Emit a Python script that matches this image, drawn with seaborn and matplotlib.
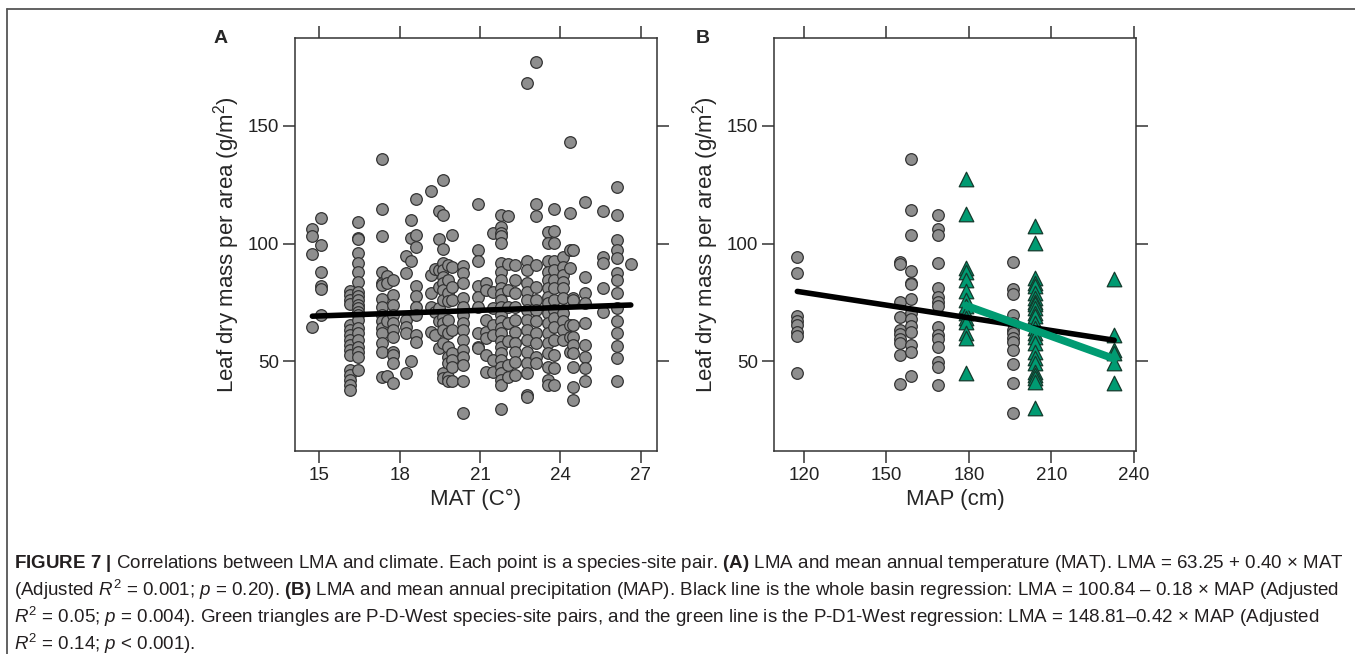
import numpy as np
import pandas as pd
import matplotlib
matplotlib.use("Agg")
import matplotlib.pyplot as plt
import seaborn as sns
from matplotlib.lines import Line2D

# ---- data ----
# panel A: mean annual temperature per site and the LMA values at that site
mat_sites = [14.74, 15.05, 16.15, 16.46, 17.33, 17.52, 17.76, 18.23, 18.41, 18.61,
             19.17, 19.33, 19.48, 19.61, 19.80, 19.97, 20.38, 20.94, 21.22, 21.48,
             21.80, 22.05, 22.31, 22.75, 23.10, 23.54, 23.77, 24.09, 24.35, 24.48,
             24.92, 25.60, 26.10, 26.63]
lma_a = [
    [106.1, 103.3, 95.6, 64.4],
    [110.8, 99.2, 87.8, 82.0, 80.6, 69.7],
    [80.0, 78.2, 76.1, 74.4, 65.4, 63.3, 61.2, 59.1, 56.9, 54.8, 52.7, 46.3, 44.2, 42.1, 40.0, 37.8],
    [109.1, 102.3, 101.8, 95.9, 91.6, 88.1, 83.8, 79.6, 77.8, 76.1, 73.9, 72.5, 71.1, 69.7, 67.6,
     64.0, 61.9, 59.1, 56.2, 54.1, 52.0, 46.3],
    [136.1, 114.6, 103.3, 88.1, 83.4, 82.4, 76.3, 73.2, 69.7, 66.9, 64.0, 61.9, 57.6, 54.1, 43.5],
    [86.3, 83.1, 66.9, 43.9],
    [84.6, 78.2, 73.9, 69.7, 66.1, 63.3, 60.5, 54.1, 52.7, 49.2, 40.7],
    [94.8, 87.4, 67.6, 64.7, 61.9, 44.9],
    [110.1, 102.3, 92.4, 50.1],
    [119.0, 103.7, 98.7, 82.0, 77.8, 73.2, 69.7, 61.2, 58.1],
    [122.4, 86.7, 78.9, 73.2, 62.6],
    [89.1, 71.1, 61.2],
    [114.0, 101.8, 88.8, 81.7, 72.5, 66.9, 55.5],
    [126.9, 112.2, 97.6, 91.6, 88.8, 86.0, 83.1, 80.3, 76.1, 69.0, 66.1, 63.3, 57.6, 44.9, 42.8],
    [90.9, 84.6, 78.9, 75.4, 67.6, 61.9, 56.2, 52.0, 49.2, 43.5, 41.4],
    [103.7, 90.2, 81.7, 76.1, 63.3, 53.4, 50.6, 47.7, 41.4],
    [90.5, 87.4, 83.1, 76.8, 73.2, 69.7, 66.1, 63.3, 59.1, 54.8, 52.0, 48.4, 41.4, 27.9],
    [117.0, 97.3, 92.4, 82.0, 77.1, 73.2, 61.9, 56.2, 55.5],
    [83.1, 80.3, 67.6, 62.6, 59.8, 52.7, 45.6],
    [104.7, 79.6, 72.5, 65.4, 61.2, 50.6, 45.6],
    [112.2, 107.2, 104.4, 103.3, 100.1, 91.6, 88.1, 84.6, 81.0, 78.6, 76.1, 73.2, 69.7, 66.9, 64.0,
     61.9, 58.4, 56.2, 53.4, 50.6, 47.7, 44.9, 42.1, 39.9, 29.6],
    [111.8, 91.2, 80.3, 73.2, 66.1, 58.4, 48.4, 43.5],
    [90.9, 84.6, 78.9, 73.2, 67.6, 62.6, 57.6, 54.1, 49.8, 44.2],
    [168.1, 92.4, 88.8, 83.1, 79.6, 76.1, 71.8, 67.6, 63.3, 59.1, 54.1, 49.2, 44.9, 35.7, 35.0],
    [177.1, 116.9, 111.8, 90.9, 81.7, 76.1, 71.8, 66.9, 61.9, 57.6, 52.0, 49.2],
    [105.1, 100.1, 92.4, 88.1, 84.6, 81.0, 77.5, 74.6, 70.4, 66.1, 61.9, 57.6, 53.4, 47.7, 42.1, 39.9],
    [114.6, 105.5, 100.1, 92.4, 88.8, 84.6, 81.0, 76.1, 71.8, 68.3, 64.7, 59.1, 52.7, 47.0, 39.9],
    [94.5, 90.2, 86.7, 83.8, 81.0, 76.8, 70.4, 66.9, 63.3, 59.1],
    [143.3, 113.2, 97.3, 89.5, 65.4, 60.5, 54.1],
    [97.3, 76.8, 76.1, 65.4, 60.5, 56.9, 53.4, 47.7, 39.2, 33.6],
    [117.8, 86.0, 78.9, 74.6, 66.1, 56.9, 52.0, 47.0, 41.4],
    [113.9, 94.5, 91.6, 81.0, 71.1],
    [124.2, 112.2, 101.6, 97.3, 93.8, 87.4, 84.6, 78.9, 72.5, 66.9, 61.9, 56.6, 51.3, 41.4],
    [91.2],
]

# panel B: gray circles (rest of basin) and green triangles (P-D-West)
map_gray = [117.6, 154.9, 158.9, 168.7, 195.9]
lma_gray = [
    [94.4, 87.5, 69.4, 67.3, 65.3, 62.6, 60.8, 44.9],
    [92.2, 91.2, 75.2, 69.0, 63.3, 61.5, 59.4, 57.9, 52.7, 40.4],
    [136.1, 114.4, 103.5, 88.4, 83.4, 82.7, 76.3, 70.4, 67.8, 65.0, 62.6, 56.9, 53.8, 43.8],
    [112.0, 106.1, 103.5, 91.6, 81.0, 77.5, 75.3, 73.5, 64.7, 61.2, 59.4, 56.2, 49.6, 47.7, 39.9],
    [92.3, 80.8, 78.4, 69.7, 66.4, 63.3, 62.0, 60.0, 58.3, 54.6, 48.8, 40.9, 28.0],
]
map_green = [178.9, 203.9, 232.8]
lma_green = [
    [127.3, 112.5, 89.5, 88.1, 84.6, 80.0, 76.0, 73.5, 70.7, 68.3, 66.8, 62.2, 59.8, 45.0],
    [107.3, 100.3, 85.3, 83.4, 82.0, 79.2, 77.0, 75.3, 74.4, 72.5, 70.4, 69.3, 66.4, 64.0, 61.9,
     60.2, 57.9, 54.1, 51.3, 49.1, 45.6, 44.2, 42.8, 41.3, 30.0],
    [85.0, 61.2, 54.8, 53.4, 49.3, 40.9],
]

# regressions from the caption: intercept, slope, x range
fit_mat = (63.25, 0.40, [14.74, 26.63])
fit_map_all = (100.84, -0.18, [117.6, 232.8])
fit_map_west = (148.81, -0.42, [178.9, 232.8])

caption_lines = [
    r"$\mathbf{FIGURE\ 7\ |}$ Correlations between LMA and climate. Each point is a species-site pair. "
    r"$\mathbf{(A)}$ LMA and mean annual temperature (MAT). LMA = 63.25 + 0.40 × MAT",
    r"(Adjusted $R^2$ = 0.001; $p$ = 0.20). $\mathbf{(B)}$ LMA and mean annual precipitation (MAP). "
    r"Black line is the whole basin regression: LMA = 100.84 – 0.18 × MAP (Adjusted",
    r"$R^2$ = 0.05; $p$ = 0.004). Green triangles are P-D-West species-site pairs, and the green line "
    r"is the P-D1-West regression: LMA = 148.81–0.42 × MAP (Adjusted",
    r"$R^2$ = 0.14; $p$ < 0.001).",
]


def long_table(sites, values, xname):
    rows = [(x, v) for x, vals in zip(sites, values) for v in vals]
    return pd.DataFrame(rows, columns=[xname, "LMA"])


def fit_table(fit, xname):
    a, b, xr = fit
    xs = np.array(xr)
    return pd.DataFrame({xname: xs, "LMA": a + b * xs})


df_a = long_table(mat_sites, lma_a, "MAT")
df_gray = long_table(map_gray, lma_gray, "MAP")
df_green = long_table(map_green, lma_green, "MAP")

sns.set_style("white")
plt.rcParams["font.family"] = ["Liberation Sans", "DejaVu Sans"]
plt.rcParams["mathtext.fontset"] = "custom"
plt.rcParams["mathtext.rm"] = "Liberation Sans"
plt.rcParams["mathtext.it"] = "Liberation Sans:italic"
plt.rcParams["mathtext.bf"] = "Liberation Sans:bold"

fig = plt.figure(figsize=(13.55, 6.54), dpi=100)
ax_a = fig.add_axes([0.2177, 0.3109, 0.2672, 0.6315])
ax_b = fig.add_axes([0.5714, 0.3109, 0.2667, 0.6315])

gray = "#8e8e8e"
edge = "#333333"
green = "#009b72"

sns.scatterplot(data=df_a, x="MAT", y="LMA", ax=ax_a, color=gray, edgecolor=edge,
                s=70, linewidth=0.9, zorder=2)
sns.lineplot(data=fit_table(fit_mat, "MAT"), x="MAT", y="LMA", ax=ax_a, color="black",
             linewidth=4, zorder=3)

sns.scatterplot(data=df_gray, x="MAP", y="LMA", ax=ax_b, color=gray, edgecolor=edge,
                s=70, linewidth=0.9, zorder=2)
sns.scatterplot(data=df_green, x="MAP", y="LMA", ax=ax_b, color=green, edgecolor="#143a2c",
                marker="^", s=110, linewidth=0.9, zorder=2)
sns.lineplot(data=fit_table(fit_map_all, "MAP"), x="MAP", y="LMA", ax=ax_b, color="black",
             linewidth=4, zorder=3)
sns.lineplot(data=fit_table(fit_map_west, "MAP"), x="MAP", y="LMA", ax=ax_b, color=green,
             linewidth=5.5, zorder=4)

ax_a.set_xlim(14.09, 27.61)
ax_a.set_xticks([15, 18, 21, 24, 27])
ax_b.set_xlim(109.2, 240.6)
ax_b.set_xticks([120, 150, 180, 210, 240])
ax_a.set_xlabel("MAT (C°)", fontsize=16, labelpad=4)
ax_b.set_xlabel("MAP (cm)", fontsize=16, labelpad=4)

for ax, letter, lx in [(ax_a, "A", -0.224), (ax_b, "B", -0.217)]:
    ax.set_ylim(12, 187.5)
    ax.set_yticks([50, 100, 150])
    ax.set_ylabel("Leaf dry mass per area (g/m$^2$)", fontsize=16, labelpad=4)
    ax.tick_params(axis="both", direction="out", length=8.5, width=1.1, color="#333333",
                   bottom=True, left=True, top=True, right=True,
                   labeltop=False, labelright=False,
                   labelsize=13.5, pad=3, labelcolor="#222222")
    for sp in ax.spines.values():
        sp.set_color("#333333")
        sp.set_linewidth(1.1)
    ax.text(lx, 0.987, letter, transform=ax.transAxes, fontsize=14,
            fontweight="bold", ha="left", va="baseline")

# figure frame (top and left rules)
fig.add_artist(Line2D([0.0052, 1.0], [0.9862, 0.9862], color="#555555", linewidth=1.3))
fig.add_artist(Line2D([0.0052, 0.0052], [0.0, 0.9862], color="#555555", linewidth=1.3))

for i, line in enumerate(caption_lines):
    fig.text(0.0103, 1 - (563 + 27 * i) / 654, line, fontsize=13.5, color="#231f20",
             ha="left", va="center")

fig.savefig("out.png", dpi=100)
